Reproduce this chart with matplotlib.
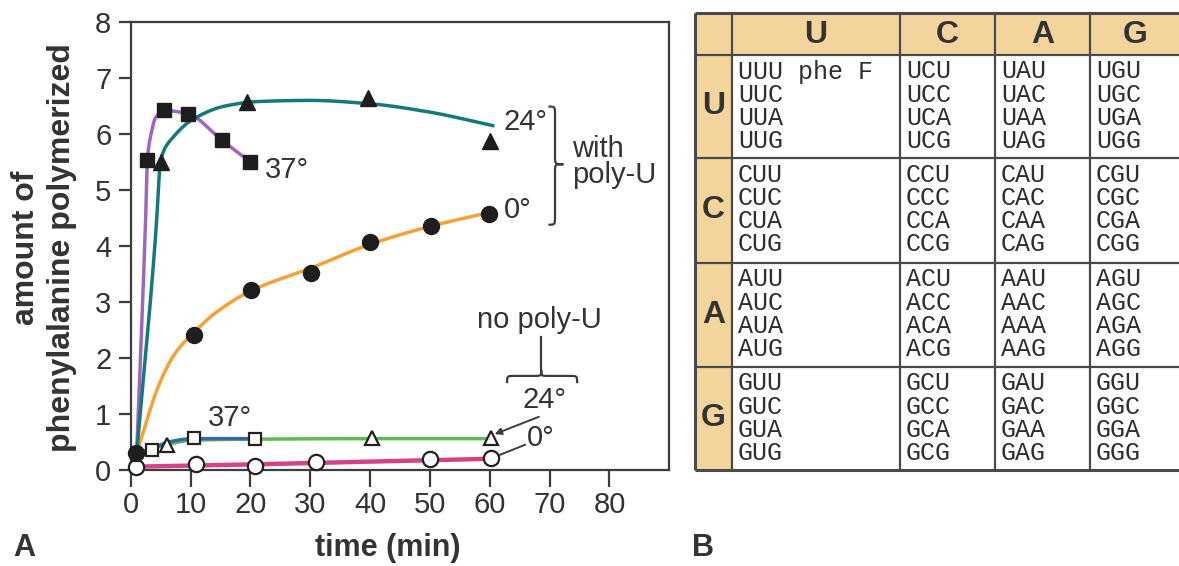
import numpy as np
import matplotlib.pyplot as plt
from matplotlib.path import Path
from matplotlib.patches import PathPatch, Rectangle

plt.rcParams['font.family'] = ['Liberation Sans', 'DejaVu Sans']

# ---- panel A data ----
time_37_poly = [2.7, 5.6, 9.6, 15.2, 20.0]
phe_37_poly = [5.54, 6.42, 6.36, 5.89, 5.5]
time_24_poly = [5.0, 19.4, 39.7, 60.0]
phe_24_poly = [5.5, 6.58, 6.65, 5.88]
time_0_poly = [0.9, 10.5, 20.1, 30.2, 40.0, 50.2, 59.9]
phe_0_poly = [0.3, 2.41, 3.21, 3.52, 4.08, 4.35, 4.58]
time_37_none = [3.5, 10.6, 20.7]
phe_37_none = [0.36, 0.57, 0.56]
time_24_none = [6.0, 40.3, 60.2]
phe_24_none = [0.44, 0.58, 0.58]
time_0_none = [0.9, 10.9, 20.7, 31.0, 50.0, 60.2]
phe_0_none = [0.05, 0.1, 0.07, 0.15, 0.19, 0.21]

# hand-drawn fit curves
fit_37_poly_t = [1, 2.5, 2.8, 3.4, 4.2, 5.6, 9.6, 15.2, 20.0]
fit_37_poly_y = [0.3, 4.5, 5.55, 6.0, 6.3, 6.42, 6.36, 5.89, 5.5]
fit_24_poly_t = [1, 4.3, 4.9, 5.6, 6.9, 10.2, 15.8, 21.3, 30, 40, 50, 60.5]
fit_24_poly_y = [0.3, 4.4, 5.45, 5.72, 5.92, 6.25, 6.5, 6.58, 6.6, 6.54, 6.39, 6.15]
fit_0_poly_t = [1, 2.7, 4.6, 7.4, 10.5, 14.1, 20.1, 30, 40, 50, 60]
fit_0_poly_y = [0.3, 0.89, 1.49, 2.08, 2.45, 2.8, 3.2, 3.6, 4.03, 4.35, 4.6]
fit_37_none_t = [1, 3.5, 6.3, 10.5, 20.7]
fit_37_none_y = [0.3, 0.38, 0.5, 0.56, 0.56]
fit_24_none_t = [1, 6.0, 10, 20, 40, 60]
fit_24_none_y = [0.3, 0.45, 0.53, 0.55, 0.56, 0.56]
fit_0_none_t = [0.9, 20, 40, 60]
fit_0_none_y = [0.06, 0.1, 0.15, 0.2]

x_ticks = [0, 10, 20, 30, 40, 50, 60, 70, 80]
y_ticks = [0, 1, 2, 3, 4, 5, 6, 7, 8]

# ---- panel B data ----
bases = ['U', 'C', 'A', 'G']
codon_notes = {'UUU': 'phe F'}

TXT = '#333333'
EDGE = '#3d3d3d'


def smooth(x, y, n=40):
    # monotone cubic (pchip) through the traced points
    x = np.asarray(x, float)
    y = np.asarray(y, float)
    h = np.diff(x)
    d = np.diff(y) / h
    m = np.zeros_like(y)
    m[0], m[-1] = d[0], d[-1]
    for k in range(1, len(x) - 1):
        if d[k - 1] * d[k] > 0:
            w1 = 2 * h[k] + h[k - 1]
            w2 = h[k] + 2 * h[k - 1]
            m[k] = (w1 + w2) / (w1 / d[k - 1] + w2 / d[k])
    xs, ys = [], []
    t = np.linspace(0, 1, n)
    for k in range(len(h)):
        h00 = 2 * t**3 - 3 * t**2 + 1
        h10 = t**3 - 2 * t**2 + t
        h01 = -2 * t**3 + 3 * t**2
        h11 = t**3 - t**2
        xs.append(x[k] + t * h[k])
        ys.append(h00 * y[k] + h10 * h[k] * m[k] + h01 * y[k + 1] + h11 * h[k] * m[k + 1])
    return np.concatenate(xs), np.concatenate(ys)


def vbrace(ax, x_end, x_stem, x_tip, y_top, y_mid, y_bot, r):
    verts = [(x_end, y_top), (x_stem, y_top), (x_stem, y_top), (x_stem, y_top - r),
             (x_stem, y_mid + r),
             (x_stem, y_mid), (x_stem, y_mid), (x_tip, y_mid),
             (x_stem, y_mid), (x_stem, y_mid), (x_stem, y_mid - r),
             (x_stem, y_bot + r),
             (x_stem, y_bot), (x_stem, y_bot), (x_end, y_bot)]
    codes = [Path.MOVETO] + [Path.CURVE4] * 3 + [Path.LINETO] + [Path.CURVE4] * 6 + [Path.LINETO] + [Path.CURVE4] * 3
    ax.add_patch(PathPatch(Path(verts, codes), fc='none', ec=EDGE, lw=1.6, clip_on=False))


def hbrace(ax, y_end, y_stem, y_tip, x_left, x_mid, x_right, r):
    verts = [(x_left, y_end), (x_left, y_stem), (x_left, y_stem), (x_left + r, y_stem),
             (x_mid - r, y_stem),
             (x_mid, y_stem), (x_mid, y_stem), (x_mid, y_tip),
             (x_mid, y_stem), (x_mid, y_stem), (x_mid + r, y_stem),
             (x_right - r, y_stem),
             (x_right, y_stem), (x_right, y_stem), (x_right, y_end)]
    codes = [Path.MOVETO] + [Path.CURVE4] * 3 + [Path.LINETO] + [Path.CURVE4] * 6 + [Path.LINETO] + [Path.CURVE4] * 3
    ax.add_patch(PathPatch(Path(verts, codes), fc='none', ec=EDGE, lw=1.6, clip_on=False))


fig = plt.figure(figsize=(11.79, 5.66), dpi=100)
ax = fig.add_axes([130.7 / 1179, 96 / 566, 538.6 / 1179, 448 / 566])

# fit lines
ax.plot(*smooth(fit_0_none_t, fit_0_none_y), color='#d6428a', lw=3.2, solid_capstyle='round', zorder=2)
ax.plot(*smooth(fit_24_none_t, fit_24_none_y), color='#5cbb55', lw=2.5, zorder=2)
ax.plot(*smooth(fit_37_none_t, fit_37_none_y), color='#3466a8', lw=2.5, zorder=2.1)
ax.plot(*smooth(fit_0_poly_t, fit_0_poly_y), color='#f5a136', lw=2.5, zorder=2.2)
ax.plot(*smooth(fit_37_poly_t, fit_37_poly_y), color='#a066bf', lw=2.5, zorder=2.3)
ax.plot(*smooth(fit_24_poly_t, fit_24_poly_y), color='#14797c', lw=2.5, zorder=2.4)

# data points
mk = dict(ls='none', clip_on=False, zorder=4)
ax.plot(time_0_none, phe_0_none, marker='o', ms=11, mfc='white', mec='#222222', mew=1.6, **mk)
ax.plot(time_24_none, phe_24_none, marker='^', ms=10, mfc='white', mec='#222222', mew=1.6, **mk)
ax.plot(time_37_none, phe_37_none, marker='s', ms=9, mfc='white', mec='#222222', mew=1.6, **mk)
ax.plot(time_37_poly, phe_37_poly, marker='s', ms=10, color='#1e1e1e', **mk)
ax.plot(time_24_poly, phe_24_poly, marker='^', ms=11, color='#1e1e1e', **mk)
ax.plot(time_0_poly, phe_0_poly, marker='o', ms=11.5, color='#1e1e1e', **mk)

ax.set_xlim(0, 90)
ax.set_ylim(0, 8)
ax.set_xticks(x_ticks)
ax.set_yticks(y_ticks)
ax.tick_params(axis='x', direction='out', length=12, width=1.6, color=EDGE, pad=3,
               labelsize=21, labelcolor=TXT)
ax.tick_params(axis='y', direction='out', length=9, width=1.6, color=EDGE, pad=5,
               labelsize=21, labelcolor=TXT)
for s in ax.spines.values():
    s.set_linewidth(1.6)
    s.set_color(EDGE)

# annotations
tk = dict(fontsize=21, color=TXT, va='center')
ax.text(62.3, 6.21, '24°', **tk)
ax.text(22.45, 5.35, '37°', **tk)
ax.text(62.3, 4.64, '0°', **tk)
ax.text(73.8, 5.73, 'with', clip_on=False, **tk)
ax.text(73.8, 5.27, 'poly-U', clip_on=False, **tk)
vbrace(ax, 69.8, 70.9, 72.3, 6.49, 5.46, 4.38, 0.15)

ax.text(68.3, 2.68, 'no poly-U', ha='center', **tk)
ax.plot([68.6, 68.6], [2.38, 1.79], color=EDGE, lw=1.6)
hbrace(ax, 1.55, 1.68, 1.79, 62.9, 68.6, 74.6, 1.2)
ax.text(65.4, 1.25, '24°', **tk)
ax.text(66.2, 0.57, '0°', **tk)
ax.text(12.9, 0.93, '37°', **tk)
ax.annotate('', xy=(60.8, 0.64), xytext=(68.2, 0.95),
            arrowprops=dict(arrowstyle='-|>', color=EDGE, lw=1.4, mutation_scale=10, shrinkA=0, shrinkB=0))
ax.plot([65.9, 61.2], [0.45, 0.25], color=EDGE, lw=1.4, zorder=3)

fig.text(44 / 1179, 1 - 248 / 566, 'amount of\nphenylalanine polymerized', rotation=90,
         ha='center', va='center', fontsize=23, fontweight='bold', color=TXT, linespacing=1.25)
fig.text(388 / 1179, 1 - 548 / 566, 'time (min)', ha='center', va='center',
         fontsize=22, fontweight='bold', color=TXT)
fig.text(24 / 1179, 1 - 548 / 566, 'A', ha='center', va='center', fontsize=22, fontweight='bold', color=TXT)
fig.text(703 / 1179, 1 - 548 / 566, 'B', ha='center', va='center', fontsize=22, fontweight='bold', color=TXT)

# ---- panel B: codon table (laid out in pixel units) ----
tb = fig.add_axes([0, 0, 1, 1])
tb.set_xlim(0, 1179)
tb.set_ylim(566, 0)
tb.axis('off')
tb.patch.set_visible(False)

col_edges = [695, 732, 900, 995, 1090, 1181]
row_edges = [13, 55, 158, 263, 367, 470]
fill = '#f3d49c'
tb.add_patch(Rectangle((col_edges[0], row_edges[0]), col_edges[-1] - col_edges[0],
                       row_edges[1] - row_edges[0], fc=fill, ec='none'))
tb.add_patch(Rectangle((col_edges[0], row_edges[0]), col_edges[1] - col_edges[0],
                       row_edges[-1] - row_edges[0], fc=fill, ec='none'))
for i, y in enumerate(row_edges):
    tb.plot([col_edges[0], col_edges[-1]], [y, y], color='#4a4a4a',
            lw=2.2 if i in (0, len(row_edges) - 1) else 1.6, solid_capstyle='butt')
for i, x in enumerate(col_edges[:-1]):
    tb.plot([x, x], [row_edges[0], row_edges[-1]], color='#4a4a4a',
            lw=2.2 if i == 0 else 1.6, solid_capstyle='butt')

for j, b2 in enumerate(bases):
    tb.text((col_edges[j + 1] + col_edges[j + 2]) / 2, (row_edges[0] + row_edges[1]) / 2 + 1, b2,
            ha='center', va='center', fontsize=23, fontweight='bold', color=TXT)
for i, b1 in enumerate(bases):
    tb.text((col_edges[0] + col_edges[1]) / 2, (row_edges[i + 1] + row_edges[i + 2]) / 2, b1,
            ha='center', va='center', fontsize=23, fontweight='bold', color=TXT)
    for j, b2 in enumerate(bases):
        for k, b3 in enumerate(bases):
            codon = b1 + b2 + b3
            label = codon + (' ' + codon_notes[codon] if codon in codon_notes else '')
            tb.text(col_edges[j + 1] + 6, row_edges[i + 1] + 16.5 + 23.3 * k, label,
                    ha='left', va='center', fontsize=18, family='Liberation Mono', color='#2e2e2e')

fig.savefig('out.png', dpi=100)
